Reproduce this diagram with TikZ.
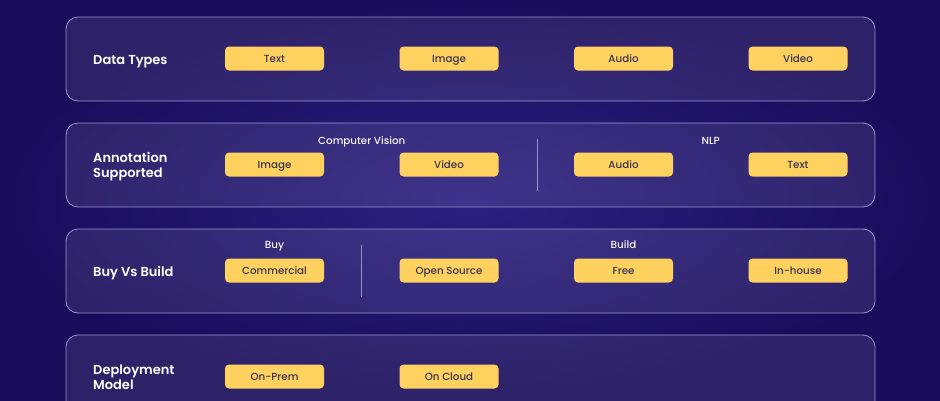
\documentclass[tikz,border=0pt]{standalone}
\usepackage{fontspec}
\setmainfont{Poppins}
\newfontfamily\medfont{Poppins Medium}
\newfontfamily\semifont{Poppins SemiBold}
\usetikzlibrary{positioning,calc}
\definecolor{bgdark}{HTML}{190C5A}
\definecolor{bgmid}{HTML}{2C2080}
\definecolor{panelline}{HTML}{9A92CE}
\definecolor{chipfill}{HTML}{FFD15E}
\definecolor{chiptext}{HTML}{3A3350}
\tikzset{panelbox/.style={rectangle, rounded corners=12pt, draw=panelline, line width=0.8pt, fill=white, fill opacity=0.09, text opacity=1, minimum width=809pt, minimum height=84pt},
chipbox/.style={rectangle, rounded corners=4pt, fill=chipfill, text=chiptext, minimum width=99pt, minimum height=24pt, inner sep=0pt, text height=7.5pt, text depth=0pt, font=\medfont\fontsize{10.3}{12}\selectfont},
rowlabel/.style={anchor=base west, inner sep=0pt, text=white, align=left, font=\semifont\fontsize{13}{15}\selectfont},
grouplabel/.style={anchor=base, text=white!92!panelline, inner sep=0pt, font=\medfont\fontsize{10.3}{12}\selectfont},
divider/.style={draw=panelline, line width=0.8pt},}

\begin{document}
\begin{tikzpicture}[x=1pt, y=-1pt, node distance=174.5pt]
\useasboundingbox (0,0) rectangle (940,400);
\clip (0,0) rectangle (940,400);
\fill[inner color=bgmid, outer color=bgdark] (0,0) rectangle (940,400);

% panels
\node [panelbox] (p1) at (470.5,59) {};
\node [panelbox] (p2) at (470.5,165) {};
\node [panelbox] (p3) at (470.5,271) {};
\node [panelbox] (p4) at (470.5,377) {};

% data types
\node [rowlabel] (l1) at (93,64) {Data Types};
\node [chipbox] (text1) at (274.5,58.5) {Text};
\node [chipbox] (image1) [right of=text1] {Image};
\node [chipbox] (audio1) [right of=image1] {Audio};
\node [chipbox] (video1) [right of=audio1] {Video};

% annotation
\node [rowlabel] (l2) at (93,177) {Annotation\\Supported};
\node [chipbox] (image2) at (274.5,164.5) {Image};
\node [chipbox] (video2) [right of=image2] {Video};
\node [chipbox] (audio2) [right of=video2] {Audio};
\node [chipbox] (text2) [right of=audio2] {Text};
\node [grouplabel] (cv) at ($(image2)!0.5!(video2)+(0,-20)$) {Computer Vision};
\node [grouplabel] (nlp) at ($(audio2)!0.5!(text2)+(0,-20)$) {NLP};
\coordinate (d2top) at (537,139);
\coordinate (d2bot) at (537,191);
\draw [divider] (d2top) -- (d2bot);

% buy vs build
\node [rowlabel] (l3) at (93,276) {Buy Vs Build};
\node [chipbox] (comm) at (274.5,270.5) {Commercial};
\node [chipbox] (open) [right of=comm] {Open Source};
\node [chipbox] (free) [right of=open] {Free};
\node [chipbox] (inhouse) [right of=free] {In-house};
\node [grouplabel] (buy) at ($(comm)+(0,-22.5)$) {Buy};
\node [grouplabel] (build) at ($(free)+(0,-22.5)$) {Build};
\coordinate (d3top) at (361,245);
\coordinate (d3bot) at (361,297);
\draw [divider] (d3top) -- (d3bot);

% deployment
\node [rowlabel] (l4) at (93,389) {Deployment\\Model};
\node [chipbox] (prem) at (274.5,376.5) {On-Prem};
\node [chipbox] (cloud) [right of=prem] {On Cloud};
\end{tikzpicture}
\end{document}
